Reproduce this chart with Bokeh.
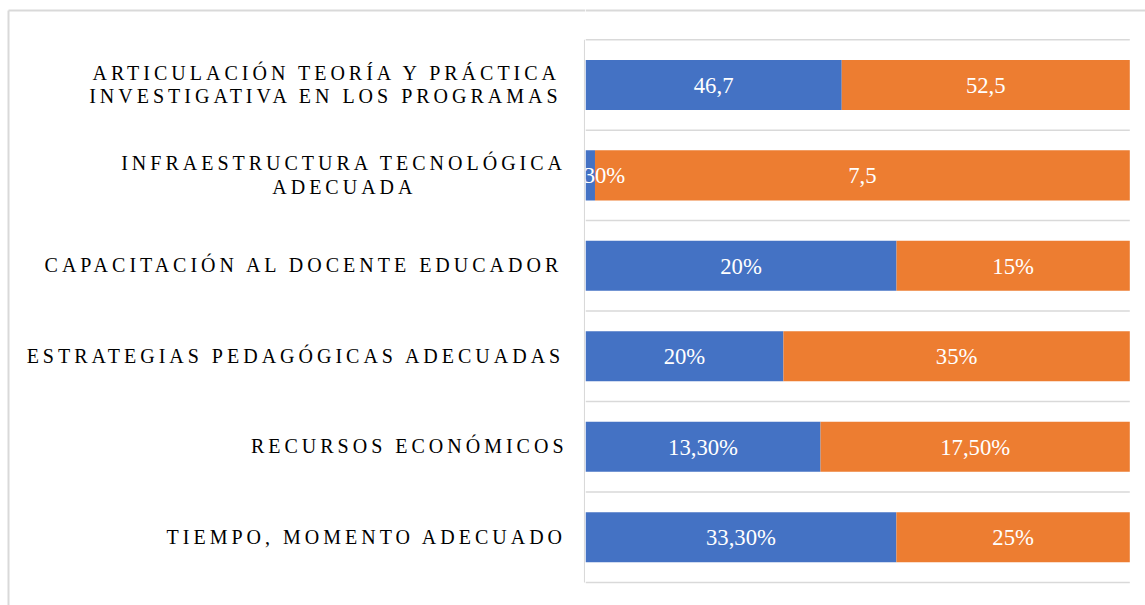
from bokeh.plotting import figure
from bokeh.models import Range1d, ColumnDataSource, Span
from bokeh.layouts import row
from bokeh.core.properties import value
from bokeh.embed import file_html
from bokeh.resources import INLINE

# ---------------- data ----------------
categories = [
    "ARTICULACIÓN TEORÍA Y PRÁCTICA\nINVESTIGATIVA EN LOS PROGRAMAS",
    "INFRAESTRUCTURA TECNOLÓGICA\nADECUADA",
    "CAPACITACIÓN AL DOCENTE EDUCADOR",
    "ESTRATEGIAS PEDAGÓGICAS ADECUADAS",
    "RECURSOS ECONÓMICOS",
    "TIEMPO, MOMENTO ADECUADO",
]
serie1_values = [46.7, 0.133, 20, 20, 13.3, 33.3]
serie2_values = [52.5, 7.5, 15, 35, 17.5, 25]
serie1_labels = ["46,7", "13,30%", "20%", "20%", "13,30%", "33,30%"]
serie2_labels = ["52,5", "7,5", "15%", "35%", "17,50%", "25%"]

# ---------------- style / geometry ----------------
BLUE = "#4472C4"
ORANGE = "#ED7D31"
GRID = "#D9D9D9"
FONT = "Liberation Serif"
W_L, W_R, H = 585, 560, 605
FRAME_TOP = 39.2
BAND = 90.45
PLOT_W = 544.3
CAT_FS = 20.0
LS = 4.0
LABEL_RIGHT = 563.0

def u(py):
    return (py - FRAME_TOP) / BAND

yr = Range1d(start=u(H), end=u(0))

# Times/Liberation Serif advance widths (per 1000 em)
ADV = dict(A=722, B=667, C=667, D=722, E=611, F=556, G=722, H=722, I=333, J=389,
           K=722, L=611, M=889, N=722, O=722, P=556, Q=722, R=667, S=556, T=611,
           U=722, V=722, W=944, X=722, Y=722, Z=611)
ADV.update({" ": 250, ",": 250, "Á": 722, "Ó": 722, "Í": 333, "É": 611, "Ú": 722})

def text_width(s):
    return sum(ADV.get(c, 600) for c in s) / 1000.0 * CAT_FS + LS * (len(s) - 1)

# ---------------- left figure: category labels ----------------
L = figure(width=W_L, height=H, x_range=Range1d(0, W_L), y_range=yr,
           x_axis_type=None, y_axis_type=None, toolbar_location=None,
           output_backend="svg", min_border=0, outline_line_color=None,
           background_fill_color="white", border_fill_color="white")
L.styles = {"letter-spacing": "%gpx" % LS}

lx, ly, lt, lo = [], [], [], []
for i, name in enumerate(categories):
    lines = name.split("\n")
    ws = [text_width(s) for s in lines]
    center = LABEL_RIGHT - max(ws) / 2
    n = len(lines)
    for j, (s, w) in enumerate(zip(lines, ws)):
        lx.append(center - w / 2)
        ly.append(i + 0.5)
        lt.append(s)
        lo.append(-0.5 + (j - (n - 1) / 2) * 23.5)
L.text(x="x", y="y", text="t", y_offset="o",
       source=ColumnDataSource(dict(x=lx, y=ly, t=lt, o=lo)),
       text_font=value(FONT), text_font_size="%gpx" % CAT_FS,
       text_align="left", text_baseline="alphabetic", text_color="#000000")

# outer chart border (top + left) and value-axis line
L.segment(x0=[8, 8], y0=[u(10), u(10)], x1=[W_L, 8], y1=[u(10), u(H)],
          line_color=GRID, line_width=2)
L.segment(x0=[584.2], y0=[0], x1=[584.2], y1=[len(categories)],
          line_color=GRID, line_width=1.5)

# ---------------- right figure: stacked bars ----------------
R = figure(width=W_R, height=H, x_range=Range1d(0, 100 * W_R / PLOT_W), y_range=yr,
           x_axis_type=None, y_axis_type=None, toolbar_location=None,
           output_backend="svg", min_border=0, outline_line_color=None,
           background_fill_color="white", border_fill_color="white")

R.add_layout(Span(location=u(10), dimension="width", line_color=GRID, line_width=2))
nb = len(categories)
R.segment(x0=[0] * (nb + 1), x1=[100] * (nb + 1), y0=list(range(nb + 1)),
          y1=list(range(nb + 1)), line_color=GRID, line_width=1.5)

share1 = [a / (a + b) * 100 for a, b in zip(serie1_values, serie2_values)]
ys = [i + 0.5 for i in range(nb)]
src = ColumnDataSource(dict(y=ys, s1=share1, full=[100] * nb,
                            zero=[0] * nb,
                            m1=[s / 2 for s in share1],
                            m2=[(s + 100) / 2 for s in share1],
                            l1=serie1_labels, l2=serie2_labels))
R.hbar(y="y", left="zero", right="s1", height=0.553, source=src,
       fill_color=BLUE, line_color=None)
R.hbar(y="y", left="s1", right="full", height=0.553, source=src,
       fill_color=ORANGE, line_color=None)

for xcol, tcol in (("m1", "l1"), ("m2", "l2")):
    R.text(x=xcol, y="y", text=tcol, source=src, y_offset=0.5,
           text_font=value(FONT), text_font_size="22.7px",
           text_align="center", text_baseline="alphabetic", text_color="white")

layout = row(L, R, spacing=0)
open("out.html", "w").write(file_html(layout, INLINE))
